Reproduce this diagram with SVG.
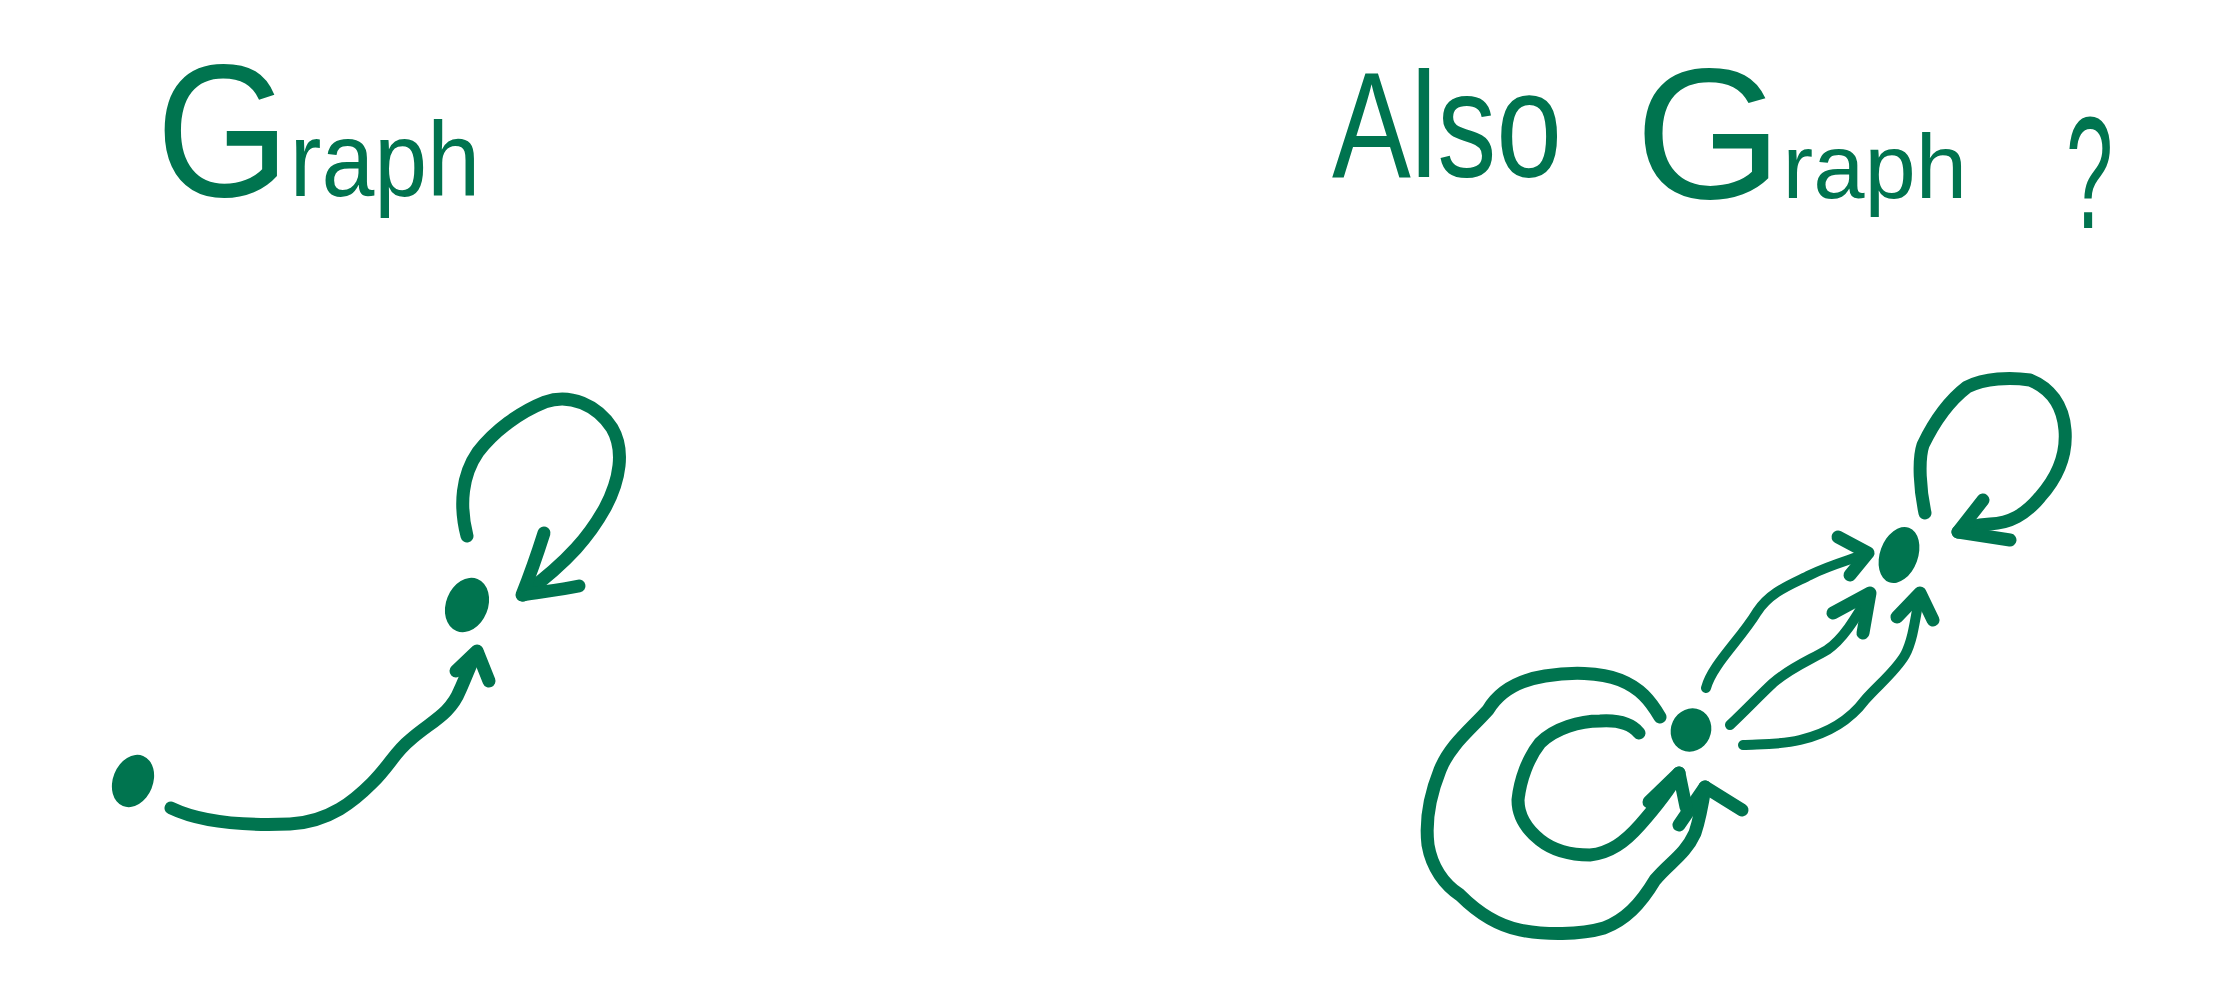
<svg xmlns="http://www.w3.org/2000/svg" width="2228" height="1000" viewBox="0 0 2228 1000">
<style>
.ink{fill:#00744f;}
.txt{fill:#00744f;font-family:"Liberation Sans","DejaVu Sans",sans-serif;}
.edge{fill:none;stroke:#00744f;stroke-width:10;stroke-linecap:round;stroke-linejoin:round;}
.loop{fill:none;stroke:#00744f;stroke-width:13;stroke-linecap:round;stroke-linejoin:round;}
.head{fill:none;stroke:#00744f;stroke-width:13;stroke-linecap:round;stroke-linejoin:round;}
</style>
<rect width="2228" height="1000" fill="#ffffff"/>
<g id="title-left">
<text class="txt" x="156" y="196" textLength="324" lengthAdjust="spacingAndGlyphs"><tspan font-size="190">G</tspan><tspan font-size="105">raph</tspan></text>
</g>
<g id="title-right">
<text class="txt"><tspan x="1332" y="177" font-size="150" textLength="230" lengthAdjust="spacingAndGlyphs">Also</tspan> <tspan x="1635" y="198" textLength="332" lengthAdjust="spacingAndGlyphs"><tspan font-size="185">G</tspan><tspan font-size="90">raph</tspan></tspan> <tspan x="2066" y="228" font-size="160" textLength="47" lengthAdjust="spacingAndGlyphs">?</tspan></text>
</g>
<g id="node-a"><ellipse class="ink" cx="467" cy="605" rx="21" ry="28" transform="rotate(22 467 605)"/></g>
<g id="node-b"><ellipse class="ink" cx="133" cy="781" rx="20" ry="27" transform="rotate(22 133 781)"/></g>
<g id="node-c"><ellipse class="ink" cx="1899" cy="555" rx="19" ry="29" transform="rotate(20 1899 555)"/></g>
<g id="node-d"><ellipse class="ink" cx="1691" cy="730" rx="20" ry="22" transform="rotate(25 1691 730)"/></g>
<g id="connectors">
<path class="loop" d="M467,536 C459,505 462,475 478,452 C495,430 520,412 545,402 C570,393 597,405 612,428 C625,450 620,480 605,508 C590,535 570,560 523,595"/>
<path class="head" d="M544,533 C537,555 530,575 522,595 C540,592 560,590 579,586"/>
<path class="loop" d="M171,808 C200,822 240,826 290,824 C330,822 355,800 372,783 C390,765 395,752 410,740 C430,722 450,715 460,690 C468,672 472,660 477,652"/>
<path class="head" d="M456,671 L477,651 L489,681"/>
<path class="loop" d="M1925,513 C1920,490 1918,460 1923,445 C1935,420 1950,400 1967,387 C1985,378 2010,377 2030,380 C2050,388 2063,405 2065,430 C2067,455 2057,478 2040,497 C2025,515 2010,523 1990,524 C1975,525 1965,528 1958,532"/>
<path class="head" d="M1983,500 L1958,532 L2010,540"/>
<path class="edge" d="M1706,688 C1712,665 1740,640 1757,612 C1770,592 1790,585 1810,575 C1830,565 1850,560 1868,553"/>
<path class="head" d="M1838,537 L1868,553 L1850,575"/>
<path class="edge" d="M1730,725 C1748,708 1760,695 1773,683 C1790,668 1810,660 1827,650 C1842,640 1855,620 1870,593"/>
<path class="head" d="M1833,613 L1870,593 L1863,633"/>
<path class="edge" d="M1743,745 C1760,744 1780,745 1800,740 C1830,733 1850,720 1865,700 C1878,685 1895,672 1905,655 C1913,640 1915,620 1920,593"/>
<path class="head" d="M1897,617 L1920,593 L1933,620"/>
<path class="loop" d="M1660,717 C1650,700 1640,688 1620,680 C1600,672 1570,672 1545,676 C1520,680 1500,690 1488,710 C1470,730 1450,745 1440,770 C1430,795 1425,820 1428,845 C1432,868 1445,885 1460,895 C1475,910 1495,925 1520,930 C1545,935 1580,935 1604,928 C1625,920 1640,905 1655,880 C1670,862 1685,855 1695,833 C1700,818 1703,800 1705,787"/>
<path class="head" d="M1679,825 L1705,787 L1742,810"/>
<path class="loop" d="M1639,733 C1630,722 1615,720 1600,721 C1580,721 1555,728 1540,743 C1528,758 1520,780 1518,800 C1518,815 1525,828 1540,840 C1555,852 1575,855 1590,855 C1610,853 1625,842 1640,825 C1655,808 1668,792 1679,773"/>
<path class="head" d="M1649,802 L1679,773 L1686,807"/>
</g>
</svg>
